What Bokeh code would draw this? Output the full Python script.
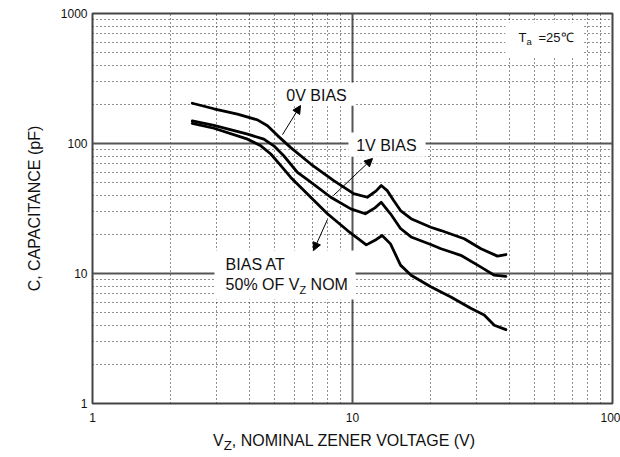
from bokeh.plotting import figure
from bokeh.models import (FixedTicker, PrintfTickFormatter, Label, BoxAnnotation,
                          Arrow, NormalHead, Div)
from bokeh.layouts import column
from bokeh.embed import file_html
from bokeh.resources import INLINE

# ---- data ----
vz_0v = [2.42, 2.93, 3.61, 4.31, 4.71, 5.15, 5.79, 6.91, 8.47, 10.1, 11.4, 12.3,
         12.9, 13.6, 14.4, 15.3, 16.8, 20.0, 21.9, 26.9, 31.2, 36.1, 38.9]
c_0v = [204, 185, 168, 152, 137, 115, 93, 69.5, 51.8, 41.2, 38.6, 43.0,
        47.5, 43.4, 36.4, 30.5, 26.4, 22.7, 21.4, 18.5, 15.5, 13.6, 14.0]

vz_1v = [2.42, 2.93, 3.95, 4.56, 4.98, 5.44, 6.14, 6.79, 8.25, 9.85, 11.2, 12.2,
         12.9, 14.0, 15.3, 16.8, 20.0, 21.9, 26.1, 31.2, 35.1, 38.9]
c_1v = [149, 138, 118, 108, 96, 80.5, 60, 51.8, 38.6, 31.4, 28.8, 32.0,
        35.3, 28.8, 22.2, 19.1, 16.7, 15.5, 13.8, 11.2, 9.7, 9.5]

vz_50 = [2.42, 2.93, 3.95, 4.44, 4.85, 5.30, 5.79, 6.71, 8.01, 9.57, 11.3, 12.2,
         13.0, 14.0, 15.3, 16.8, 20.0, 23.9, 28.5, 32.1, 35.1, 38.9]
c_50 = [143, 131, 108, 96, 83, 67.5, 54.8, 40.9, 28.8, 21.4, 16.6, 18.0,
        19.6, 16.9, 11.6, 9.7, 7.9, 6.6, 5.4, 4.8, 4.0, 3.7]

x_ticks = [1, 10, 100]
y_ticks = [1, 10, 100, 1000]
x_minor = [m * 10 ** k for k in range(0, 2) for m in range(2, 10)]
y_minor = [m * 10 ** k for k in range(0, 3) for m in range(2, 10)]

x_title_html = "V<sub>Z</sub>, NOMINAL ZENER VOLTAGE (V)"
y_title = "C, CAPACITANCE (pF)"

FONT = "Liberation Sans"

p = figure(width=620, height=430, x_axis_type="log", y_axis_type="log",
           x_range=(1, 100), y_range=(1, 1000), output_backend="svg",
           toolbar_location=None, min_border_left=92, min_border_right=8,
           min_border_top=13, min_border_bottom=27)
p.background_fill_color = "white"
p.border_fill_color = "white"
p.outline_line_color = "#444444"
p.outline_line_width = 2

p.xaxis.ticker = FixedTicker(ticks=x_ticks, minor_ticks=x_minor)
p.yaxis.ticker = FixedTicker(ticks=y_ticks, minor_ticks=y_minor)
for ax in (p.xaxis, p.yaxis):
    ax.formatter = PrintfTickFormatter(format="%d")
    ax.axis_line_color = None
    ax.major_tick_line_color = None
    ax.minor_tick_line_color = None
    ax.major_tick_out = 0
    ax.minor_tick_out = 0
    ax.major_tick_in = 0
    ax.minor_tick_in = 0
    ax.major_label_text_font = FONT
    ax.major_label_text_font_size = "12px"
    ax.major_label_text_color = "#111111"
p.xaxis.major_label_standoff = 9
p.yaxis.major_label_standoff = 5
p.yaxis.axis_label = y_title
p.yaxis.axis_label_text_font = FONT
p.yaxis.axis_label_text_font_size = "16px"
p.yaxis.axis_label_text_font_style = "normal"
p.yaxis.axis_label_text_color = "#111111"
p.yaxis.axis_label_standoff = 15

for g in (p.xgrid, p.ygrid):
    g.grid_line_color = "#555555"
    g.grid_line_width = 2
    g.minor_grid_line_color = "#222222"
    g.minor_grid_line_width = 1
    g.minor_grid_line_dash = "1 3"

# white boxes behind the in-plot labels (interrupt the grid)
boxes = [
    (5.1, 10.3, 294, 195),      # 0V BIAS
    (9.65, 19.1, 121.5, 79),    # 1V BIAS
    (2.945, 10.27, 15.0, 6.3),  # BIAS AT 50% ...
    (38.7, 76.7, 853, 467),     # Ta = 25C
]
for l, r, t, b in boxes:
    p.add_layout(BoxAnnotation(left=l, right=r, top=t, bottom=b,
                               fill_color="white", fill_alpha=1.0,
                               line_color=None, level="underlay"))

for xs, ys in ((vz_0v, c_0v), (vz_1v, c_1v), (vz_50, c_50)):
    p.line(xs, ys, line_color="black", line_width=2.8, line_join="round",
           line_cap="round")

arrows = [
    ((5.38, 117), (6.31, 196)),
    ((8.45, 39.8), (11.94, 76.7)),
    ((8.01, 26.0), (7.08, 15.0)),
]
for (x0, y0), (x1, y1) in arrows:
    p.add_layout(Arrow(x_start=x0, y_start=y0, x_end=x1, y_end=y1,
                       line_color="black", line_width=1,
                       end=NormalHead(size=8, fill_color="black",
                                      line_color="black", line_width=1)))


def lab(x, y, text, size, align="left", xo=0):
    p.add_layout(Label(x=x, y=y, text=text, x_offset=xo,
                       text_font=FONT, text_font_size=size, text_color="#111111",
                       text_align=align, text_baseline="middle"))


# in-plot annotations
lab(7.27, 234, "0V BIAS", "16px", align="center")
lab(13.5, 96.6, "1V BIAS", "16px", align="center")
lab(3.25, 11.7, "BIAS AT", "16px")
lab(3.25, 8.23, "50% OF V", "16px")
lab(3.25, 7.4, "Z", "11px", xo=74)
lab(3.25, 8.23, "NOM", "16px", xo=85)
lab(43.5, 653, "T", "13px")
lab(43.5, 609, "a", "9.5px", xo=8)
lab(43.5, 653, "=25\u2103", "13px", xo=20)

xtitle = Div(text=x_title_html, width=620, height=27, margin=0,
             styles={"font-family": FONT, "font-size": "16px", "color": "#111111",
                     "padding-left": "213px", "line-height": "20px",
                     "padding-top": "1px", "white-space": "nowrap"})

layout = column(p, xtitle, spacing=0)
open("out.html", "w").write(file_html(layout, INLINE))
